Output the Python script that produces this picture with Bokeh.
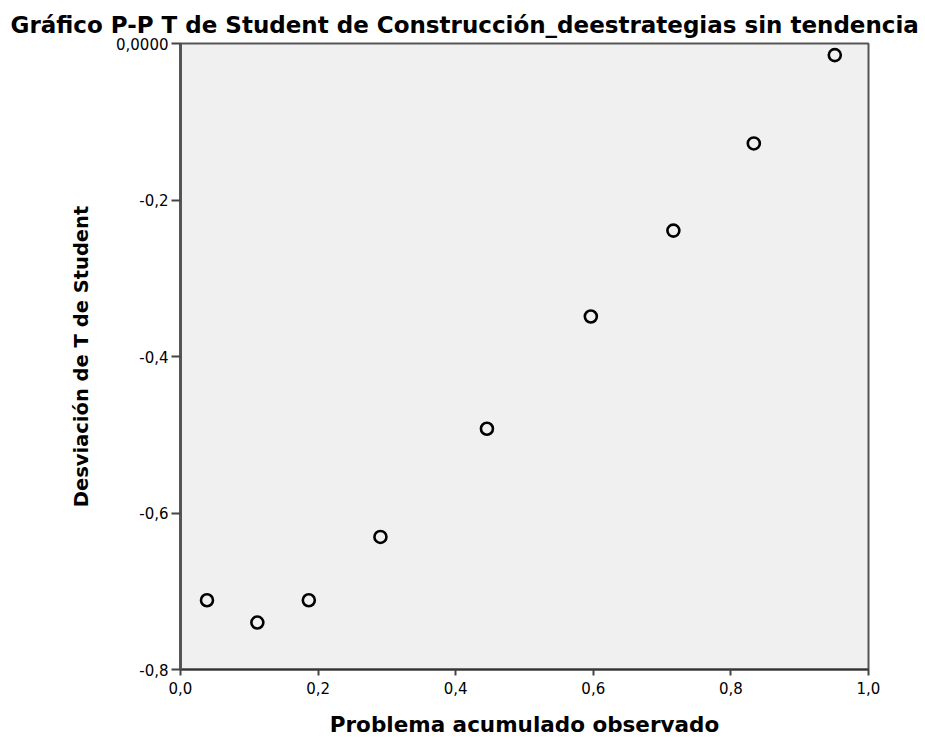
from bokeh.plotting import figure
from bokeh.models import FixedTicker
from bokeh.embed import file_html
from bokeh.resources import INLINE

# Data
obs_cum = [0.0385, 0.1117, 0.1865, 0.2906, 0.4454, 0.5964, 0.7164, 0.8333, 0.9510]
deviation = [-0.7115, -0.7400, -0.7115, -0.6306, -0.4923, -0.3489, -0.2391, -0.1277, -0.0148]

x_ticks = [0.0, 0.2, 0.4, 0.6, 0.8, 1.0]
x_tick_labels = ["0,0", "0,2", "0,4", "0,6", "0,8", "1,0"]
y_ticks = [-0.8, -0.6, -0.4, -0.2, 0.0]
y_tick_labels = ["-0,8", "-0,6", "-0,4", "-0,2", "0,0000"]

title_text = "Gráfico P-P T de Student de Construcción_deestrategias sin tendencia"
x_label = "Problema acumulado observado"
y_label = "Desviación de T de Student"

p = figure(width=922, height=740, x_range=(0, 1), y_range=(-0.8, 0),
           output_backend="svg", toolbar_location=None,
           min_border_left=180, min_border_right=54,
           min_border_top=43, min_border_bottom=71)

p.title.text = title_text
p.title.text_font = "DejaVu Sans"
p.title.text_font_size = "23px"
p.title.text_font_style = "bold"
p.title.text_color = "#000000"
p.title.align = "left"
p.title.offset = -170
p.title.standoff = 11

p.background_fill_color = "#f0f0f0"
p.border_fill_color = "#ffffff"
p.outline_line_color = "#555555"
p.outline_line_width = 2
p.xgrid.visible = False
p.ygrid.visible = False

p.scatter(obs_cum, deviation, marker="circle", size=12, fill_color=None,
          line_color="#000000", line_width=2.6)

p.xaxis.ticker = FixedTicker(ticks=x_ticks)
p.xaxis.major_label_overrides = {t: l for t, l in zip(x_ticks, x_tick_labels)}
p.yaxis.ticker = FixedTicker(ticks=y_ticks)
p.yaxis.major_label_overrides = {t: l for t, l in zip(y_ticks, y_tick_labels)}

for ax in (p.xaxis[0], p.yaxis[0]):
    ax.minor_tick_line_color = None
    ax.major_tick_in = 0
    ax.major_tick_line_color = "#444444"
    ax.major_tick_line_width = 2
    ax.major_label_text_font = "DejaVu Sans"
    ax.major_label_text_font_size = "15px"
    ax.major_label_text_color = "#000000"
    ax.axis_label_text_font = "DejaVu Sans"
    ax.axis_label_text_font_style = "bold"
    ax.axis_label_text_color = "#000000"

p.xaxis.axis_label = x_label
p.xaxis.axis_label_text_font_size = "21.5px"
p.xaxis.major_tick_out = 6
p.xaxis.major_label_standoff = 6
p.xaxis.axis_label_standoff = 15
p.xaxis.axis_line_color = "#333333"
p.xaxis.axis_line_width = 2

p.yaxis.axis_label = y_label
p.yaxis.axis_label_text_font_size = "19.5px"
p.yaxis.major_tick_out = 9
p.yaxis.major_label_standoff = 3
p.yaxis.axis_label_standoff = 20
p.yaxis.axis_line_color = "#555555"
p.yaxis.axis_line_width = 3

open("out.html", "w").write(file_html(p, INLINE))
